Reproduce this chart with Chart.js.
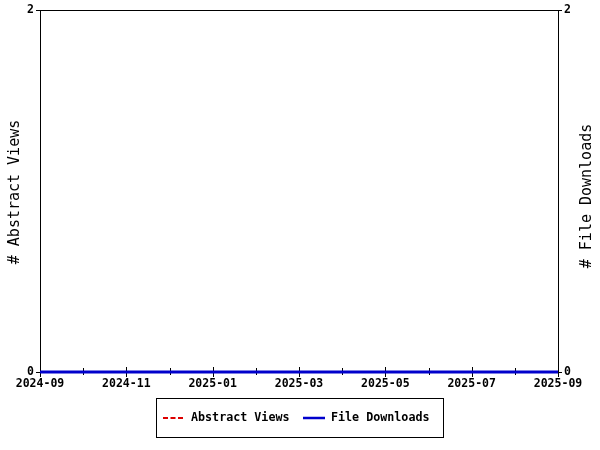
<!DOCTYPE html>
<html>
<head>
<meta charset="utf-8">
<script src="https://cdn.jsdelivr.net/npm/chart.js@4"></script>
<style>
  html, body { margin: 0; padding: 0; background: #fff; }
  #wrap { width: 600px; height: 450px; }
</style>
</head>
<body>
<div id="wrap"><canvas id="statsChart" width="600" height="450"></canvas></div>
<script>
const months = [
  "2024-09", "2024-10", "2024-11", "2024-12", "2025-01", "2025-02", "2025-03",
  "2025-04", "2025-05", "2025-06", "2025-07", "2025-08", "2025-09"
];
const abstractViews = [0, 0, 0, 0, 0, 0, 0, 0, 0, 0, 0, 0, 0];
const fileDownloads = [0, 0, 0, 0, 0, 0, 0, 0, 0, 0, 0, 0, 0];
const yTicks = [0, 2];
const leftTitle = "# Abstract Views";
const rightTitle = "# File Downloads";
const seriesNames = ["Abstract Views", "File Downloads"];

const RED = "#dd0000";
const BLUE = "#0000cc";
const MONO = "'DejaVu Sans Mono', 'Liberation Mono', monospace";
const tickFont = { family: MONO, size: 11.5, weight: "bold" };

// frame + x tick marks go under the lines, titles + legend on top
const framePlugin = {
  id: "frame",
  beforeDatasetsDraw(chart) {
    const { ctx, chartArea: a } = chart;
    const x = chart.scales.x;
    ctx.save();
    ctx.strokeStyle = "#000";
    ctx.lineWidth = 1;
    ctx.strokeRect(a.left + 0.5, a.top + 0.5, a.right - a.left, a.bottom - a.top);
    x.ticks.forEach((t, i) => {
      const px = Math.round(x.getPixelForTick(i)) + 0.5;
      const major = i % 2 === 0;
      ctx.beginPath();
      ctx.moveTo(px, a.bottom - (major ? 5 : 4));
      ctx.lineTo(px, a.bottom + (major ? 5 : 3));
      ctx.stroke();
    });
    ctx.restore();
  },
  afterDraw(chart) {
    const { ctx } = chart;
    ctx.save();
    ctx.fillStyle = "#000";
    ctx.font = "15px " + MONO;
    ctx.textAlign = "center";
    ctx.textBaseline = "middle";
    [[15, 192, leftTitle], [587, 196, rightTitle]].forEach(([cx, cy, txt]) => {
      ctx.save();
      ctx.translate(cx, cy);
      ctx.rotate(-Math.PI / 2);
      ctx.fillText(txt, 0, 0);
      ctx.restore();
    });

    // legend box
    ctx.strokeStyle = "#000";
    ctx.lineWidth = 1;
    ctx.strokeRect(156.5, 398.5, 287, 39);
    const ly = 418;
    ctx.font = "bold 11.7px " + MONO;
    ctx.textAlign = "left";
    ctx.textBaseline = "middle";

    ctx.strokeStyle = RED;
    ctx.lineWidth = 2;
    ctx.setLineDash([5, 2.5]);
    ctx.beginPath();
    ctx.moveTo(163, ly);
    ctx.lineTo(183, ly);
    ctx.stroke();
    ctx.setLineDash([]);
    ctx.fillText(seriesNames[0], 191, ly);

    ctx.strokeStyle = BLUE;
    ctx.lineWidth = 2.5;
    ctx.beginPath();
    ctx.moveTo(303, ly);
    ctx.lineTo(325, ly);
    ctx.stroke();
    ctx.fillText(seriesNames[1], 331, ly);
    ctx.restore();
  }
};

const yAxis = (position, width) => ({
  type: "linear",
  position: position,
  min: yTicks[0],
  max: yTicks[yTicks.length - 1],
  afterBuildTicks: scale => { scale.ticks = yTicks.map(v => ({ value: v })); },
  afterFit: scale => { scale.width = width; },
  ticks: { color: "#000", font: tickFont, padding: 2 },
  grid: { drawOnChartArea: false, tickLength: 4, color: "#000" },
  border: { display: false }
});

new Chart(document.getElementById("statsChart"), {
  type: "line",
  data: {
    labels: months,
    datasets: [
      {
        label: seriesNames[1],
        data: fileDownloads,
        yAxisID: "y2",
        borderColor: BLUE,
        borderWidth: 3,
        pointRadius: 0,
        fill: false,
        clip: false,
        order: 0
      },
      {
        label: seriesNames[0],
        data: abstractViews,
        yAxisID: "y",
        borderColor: RED,
        borderWidth: 2,
        borderDash: [5, 2.5],
        pointRadius: 0,
        fill: false,
        clip: false,
        order: 1
      }
    ]
  },
  options: {
    responsive: false,
    animation: false,
    events: [],
    layout: { padding: { top: 10, left: 0, right: 0, bottom: 0 } },
    plugins: {
      legend: { display: false },
      tooltip: { enabled: false }
    },
    scales: {
      x: {
        type: "category",
        offset: false,
        afterFit: scale => { scale.height = 78; },
        grid: { display: false, drawTicks: false },
        border: { display: false },
        ticks: {
          color: "#000",
          font: tickFont,
          padding: 5,
          autoSkip: false,
          maxRotation: 0,
          callback: (v, i) => (i % 2 === 0 ? months[i] : "")
        }
      },
      y: yAxis("left", 40),
      y2: yAxis("right", 42)
    }
  },
  plugins: [framePlugin]
});
</script>
</body>
</html>
